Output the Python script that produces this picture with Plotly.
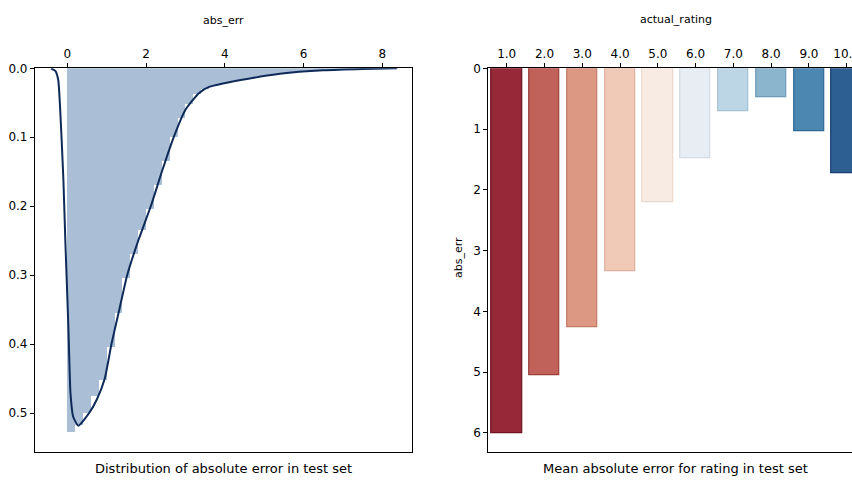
import plotly.graph_objects as go

# ---- Left panel: distribution of absolute error ----
hist_centers = [0.1, 0.3, 0.5, 0.7, 0.9, 1.1, 1.3, 1.5, 1.7, 1.9, 2.1, 2.3, 2.5, 2.7, 2.9,
                3.1, 3.3, 3.5, 3.7, 3.9, 4.1, 4.3, 4.5, 4.7, 4.9, 5.1, 5.3, 5.5, 5.7, 5.9,
                6.1, 6.3, 6.5, 6.7, 6.9, 7.1, 7.3, 7.5, 7.7, 7.9, 8.1, 8.3]
hist_density = [0.527, 0.518, 0.50, 0.475, 0.452, 0.405, 0.355, 0.305, 0.27, 0.235, 0.205,
                0.17, 0.135, 0.10, 0.072, 0.052, 0.038, 0.030, 0.026, 0.023, 0.021, 0.018,
                0.016, 0.014, 0.012, 0.010, 0.0085, 0.007, 0.006, 0.005, 0.004, 0.0035,
                0.003, 0.0025, 0.002, 0.0015, 0.0012, 0.001, 0.0008, 0.0005, 0.0003, 0.0002]

kde_x = [-0.41, -0.3, -0.23, -0.18, -0.10, -0.05, 0.0, 0.03, 0.08, 0.15, 0.28, 0.55, 0.75,
         0.95, 1.12, 1.32, 1.52, 1.8, 2.12, 2.4, 2.7, 3.0, 3.34, 3.6, 3.95, 4.6, 5.4, 6.5,
         7.5, 8.37]
kde_y = [0.0, 0.004, 0.017, 0.06, 0.16, 0.25, 0.33, 0.38, 0.47, 0.505, 0.518, 0.50, 0.48,
         0.45, 0.40, 0.35, 0.30, 0.25, 0.20, 0.15, 0.10, 0.06, 0.036, 0.027, 0.022, 0.015,
         0.008, 0.003, 0.001, 0.0]

# ---- Right panel: mean absolute error per rating ----
ratings = ["1.0", "2.0", "3.0", "4.0", "5.0", "6.0", "7.0", "8.0", "9.0", "10.0"]
mae = [6.0, 5.05, 4.27, 3.34, 2.21, 1.48, 0.71, 0.47, 1.03, 1.72]
bar_colors = ["#972838", "#c0615a", "#dc9882", "#f0cab6", "#f8ebe3",
              "#e7edf2", "#bdd6e5", "#8ab5cd", "#4c87b2", "#2d5f92"]
edge_colors = ["#6e1424", "#9c3e3a", "#c07a66", "#dcb09c", "#ead8cc",
               "#d2dbe3", "#a3c1d4", "#6e9cb8", "#2f6a96", "#163f70"]

FONT = "DejaVu Sans, Liberation Sans, sans-serif"

fig = go.Figure()
fig.add_trace(go.Bar(x=hist_centers, y=hist_density, width=0.2,
                     marker=dict(color="#aabed5", line=dict(width=0)),
                     xaxis="x", yaxis="y", showlegend=False))
fig.add_trace(go.Scatter(x=kde_x, y=kde_y, mode="lines",
                         line=dict(color="#0e2a58", width=2, shape="spline", smoothing=0.5),
                         xaxis="x", yaxis="y", showlegend=False))
fig.add_trace(go.Bar(x=list(range(len(ratings))), y=mae, width=0.8,
                     marker=dict(color=bar_colors, line=dict(color=edge_colors, width=1.2)),
                     xaxis="x2", yaxis="y2", showlegend=False))

ax_common = dict(showgrid=False, zeroline=False, showline=True, linecolor="black",
                 linewidth=1.2, ticks="outside", ticklen=4, tickcolor="black",
                 automargin=False, ticklabeloverflow="allow",
                 tickfont=dict(family=FONT, size=12, color="black"))

ydom = [1 - 451.7 / 482, 1 - 68.3 / 482]

fig.update_layout(
    width=852, height=482,
    margin=dict(l=0, r=0, t=0, b=0),
    paper_bgcolor="white", plot_bgcolor="white",
    barmode="overlay", bargap=0,
    font=dict(family=FONT, color="black"),
    xaxis=dict(domain=[35 / 852, 412.3 / 852], range=[-0.82, 8.76], side="top",
               tickvals=[0, 2, 4, 6, 8], anchor="y", mirror=True, **ax_common),
    yaxis=dict(domain=ydom, range=[0.5557, 0.0], tickvals=[0, 0.1, 0.2, 0.3, 0.4, 0.5],
               tickformat=".1f", anchor="x", mirror=True, **ax_common),
    xaxis2=dict(domain=[488.3 / 852, 1.0], range=[-0.487, 9.14], side="top",
                tickvals=list(range(len(ratings))), ticktext=ratings, anchor="y2",
                mirror=True, **ax_common),
    yaxis2=dict(domain=ydom, range=[6.31, 0.0], tickvals=[0, 1, 2, 3, 4, 5, 6],
                anchor="x2", mirror=False, **ax_common),
)

annots = [
    dict(text="abs_err", x=223.5 / 852, y=1 - 21 / 482, size=11, angle=0),
    dict(text="actual_rating", x=676 / 852, y=1 - 20 / 482, size=11, angle=0),
    dict(text="abs_err", x=458 / 852, y=1 - 258 / 482, size=11, angle=-90),
    dict(text="Distribution of absolute error in test set", x=223.5 / 852, y=1 - 468 / 482,
         size=13, angle=0),
    dict(text="Mean absolute error for rating in test set", x=675 / 852, y=1 - 468 / 482,
         size=13, angle=0),
]
for a in annots:
    fig.add_annotation(text=a["text"], x=a["x"], y=a["y"], xref="paper", yref="paper",
                       xanchor="center", yanchor="middle", showarrow=False,
                       textangle=a["angle"], font=dict(family=FONT, size=a["size"], color="black"))

fig.write_html("out.html", config={"displayModeBar": False},
               post_script="document.body.style.margin='0';document.body.style.overflow='hidden';")
